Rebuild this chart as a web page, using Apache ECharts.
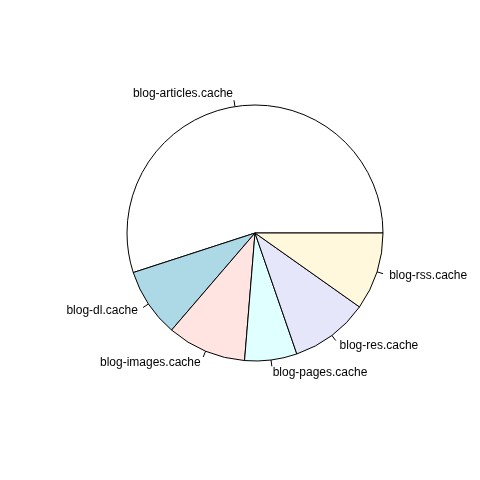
<!DOCTYPE html>
<html>
<head>
<meta charset="utf-8">
<script src="https://cdn.jsdelivr.net/npm/echarts@6/dist/echarts.min.js"></script>
<style>html,body{margin:0;padding:0;background:#fff;}#c{width:480px;height:480px;}</style>
</head>
<body>
<div id="c"></div>
<script>
const categories = ["blog-articles.cache", "blog-dl.cache", "blog-images.cache", "blog-pages.cache", "blog-res.cache", "blog-rss.cache"];
const values = [55.0, 8.7, 10.0, 6.6, 9.9, 9.8];
const colors = ["#FFFFFF", "#ADD8E6", "#FFE4E1", "#E0FFFF", "#E6E6FA", "#FFF8DC"];

const chart = echarts.init(document.getElementById('c'), null, {renderer: 'canvas'});
const R = 128;
const sliceData = categories.map((name, i) => ({name, value: values[i], itemStyle: {color: colors[i]}}));
const labelData = categories.map((name, i) => ({name, value: values[i]}));
chart.setOption({
  backgroundColor: '#fff',
  animation: false,
  series: [
    {
      type: 'pie',
      center: [255, 233],
      radius: [0, R],
      startAngle: 0,
      clockwise: false,
      avoidLabelOverlap: false,
      silent: true,
      itemStyle: {borderColor: '#000', borderWidth: 1},
      label: {show: true, position: 'outside', color: 'transparent', formatter: ' ', fontSize: 1, distanceToLabelLine: 0},
      labelLayout: {hideOverlap: false},
      labelLine: {show: true, length: R * 0.05, length2: 0, smooth: false, lineStyle: {color: '#000', width: 1}},
      emphasis: {disabled: true},
      data: sliceData
    },
    {
      type: 'pie',
      center: [255, 233],
      radius: [0, R],
      startAngle: 0,
      clockwise: false,
      avoidLabelOverlap: false,
      silent: true,
      z: 5,
      itemStyle: {color: 'transparent', borderWidth: 0},
      label: {show: true, position: 'outside', color: '#000', fontSize: 12, fontFamily: 'Liberation Sans, Arial, sans-serif', distanceToLabelLine: 0, formatter: '{b}'},
      labelLayout: {hideOverlap: false},
      labelLine: {show: true, length: R * 0.1, length2: 0, lineStyle: {color: 'transparent', width: 0}},
      emphasis: {disabled: true},
      data: labelData
    }
  ]
});
</script>
</body>
</html>
